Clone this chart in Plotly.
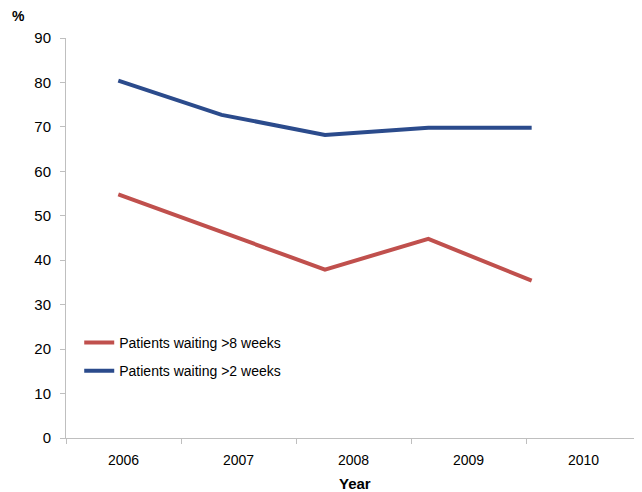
import plotly.graph_objects as go

years = [2006, 2007, 2008, 2009, 2010]
wait_8w = [54.8, 46.4, 37.9, 44.8, 35.4]
wait_2w = [80.4, 72.7, 68.2, 69.8, 69.8]
y_ticks = [0, 10, 20, 30, 40, 50, 60, 70, 80, 90]

RED = "#C0504D"
BLUE = "#2B4B8C"
AXIS = "#BFBFBF"
FONT = "Liberation Sans, Arial, sans-serif"

# x range of the data axis (lines sit left of the category label centres, as in the reference)
r0, r1 = 2005.494, 2011.058
ncat = len(years)
cat_w = (r1 - r0) / ncat
label_pos = [r0 + (i + 0.5) * cat_w for i in range(ncat)]

fig = go.Figure()
fig.add_trace(go.Scatter(x=years, y=wait_8w, mode="lines", name="Patients waiting >8 weeks",
                         line=dict(color=RED, width=4), legendgroup="a"))
fig.add_trace(go.Scatter(x=years, y=wait_2w, mode="lines", name="Patients waiting >2 weeks",
                         line=dict(color=BLUE, width=4), legendgroup="b"))

fig.update_layout(
    width=634, height=484,
    margin=dict(l=58, r=1, t=30, b=54),
    paper_bgcolor="white", plot_bgcolor="white",
    font=dict(family=FONT, size=14, color="#000000"),
    showlegend=True,
    legend=dict(x=0.023, y=0.2775, xanchor="left", yanchor="top", xref="paper", yref="paper",
                font=dict(size=14, family=FONT), bgcolor="rgba(0,0,0,0)",
                tracegroupgap=7, itemwidth=30),
    xaxis=dict(range=[r0, r1], tickmode="array", tickvals=label_pos,
               ticktext=[str(y) for y in years], ticks="", showgrid=False, zeroline=False,
               showline=True, linecolor=AXIS, linewidth=1, ticklabelstandoff=9,
               minor=dict(tickmode="linear", tick0=r0, dtick=cat_w, ticks="outside",
                          ticklen=5, tickcolor=AXIS, showgrid=False),
               tickfont=dict(size=14)),
    yaxis=dict(range=[0, 90], tickmode="array", tickvals=y_ticks, ticks="outside",
               ticklen=5, tickcolor=AXIS, showgrid=False, zeroline=False, showline=True,
               linecolor=AXIS, linewidth=1, tickfont=dict(size=15), ticklabelstandoff=6),
    annotations=[
        dict(text="<b>%</b>", x=-0.083, y=1.055, xref="paper", yref="paper",
             showarrow=False, font=dict(size=14, family=FONT), xanchor="center", yanchor="middle"),
        dict(text="<b>Year</b>", x=0.503, y=-0.113, xref="paper", yref="paper",
             showarrow=False, font=dict(size=15, family=FONT), xanchor="center", yanchor="middle"),
    ],
)

fig.write_html("out.html")
